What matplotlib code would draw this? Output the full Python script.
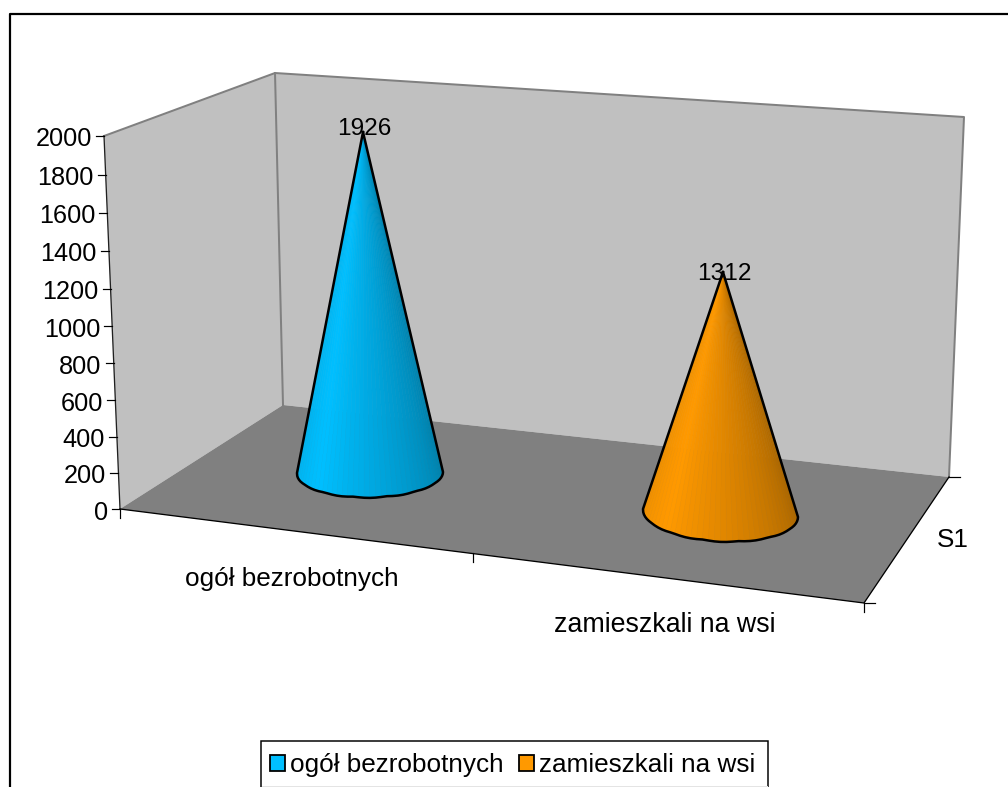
import numpy as np
import matplotlib
matplotlib.use('Agg')
import matplotlib.pyplot as plt
from matplotlib.patches import Patch, Polygon, Rectangle
from matplotlib.collections import PolyCollection

plt.rcParams['font.family'] = ['Liberation Sans', 'DejaVu Sans']

categories = ['ogół bezrobotnych', 'zamieszkali na wsi']
values = [1926, 1312]
colors = ['#00BFFF', '#FF9900']
y_ticks = [0, 200, 400, 600, 800, 1000, 1200, 1400, 1600, 1800, 2000]
depth_label = 'S1'

FONT = 18.8
TICK_FONT = 18.2
LABEL_FONT = 17.6
PX = 0.72  # one pixel in points

fig = plt.figure(figsize=(10.08, 7.87), dpi=100)
ax = fig.add_axes([0, 0, 1, 1])
ax.set_xlim(0, 1008)
ax.set_ylim(787, 0)
ax.axis('off')

# outer frame, only left and top edges are inside the picture
ax.plot([9, 1010], [12.5, 12.5], color='#D0D0D0', lw=1 * PX)
ax.plot([9.5, 9.5, 1010], [790, 14, 14], color='black', lw=2.2 * PX)

# walls and floor
ax.add_patch(Polygon([(104, 136), (275, 73), (283, 405), (120, 509)], fc='#C0C0C0', ec='none'))
ax.add_patch(Polygon([(275, 73), (964, 117), (949, 477), (283, 405)], fc='#C0C0C0', ec='none'))
ax.add_patch(Polygon([(120, 509), (283, 405), (949, 477), (864, 603)], fc='#808080', ec='none'))
ax.plot([104, 275, 964, 949], [136, 73, 117, 477], color='#808080', lw=2 * PX)
ax.plot([275, 283], [73, 405], color='#808080', lw=2 * PX)

# value axis runs along the slanted front edge of the left wall, with a bit of perspective
def axis_frac(v):
    t = v / 2000.0
    return t / (1 + 0.04 * (1 - t))

def axis_x(v):
    return 120 + (104 - 120) * axis_frac(v)

def axis_y(v):
    return 509 + (136 - 509) * axis_frac(v)

ax.plot([axis_x(0), axis_x(2000)], [axis_y(0), axis_y(2000)], color='#202020', lw=1.3 * PX)
for v in y_ticks:
    ax.plot([axis_x(v) - 8, axis_x(v)], [axis_y(v), axis_y(v)], color='black', lw=1.2 * PX)
    ax.text(axis_x(v) - 12, axis_y(v) + 1, str(v), ha='right', va='center_baseline',
            fontsize=TICK_FONT, color='black')

# floor edges and their ticks
ax.plot([120, 864, 949], [509, 603, 477], color='black', lw=1.3 * PX)
ax.plot([120, 120], [509, 518], color='black', lw=1.2 * PX)
ax.plot([473, 473], [553, 562], color='black', lw=1.2 * PX)
ax.plot([864, 864], [603, 612], color='black', lw=1.2 * PX)
ax.plot([864, 875], [603, 603], color='black', lw=1.2 * PX)
ax.plot([949, 960], [477, 477], color='black', lw=1.2 * PX)

ax.text(291.5, 579, categories[0], ha='center', va='center', fontsize=FONT)
ax.text(664.5, 625, categories[1], ha='center', va='center', fontsize=19.3)
ax.text(953, 540, depth_label, ha='center', va='center', fontsize=FONT)


def shade(color, t):
    # bright a quarter of the way round, darker towards the right side
    rgb = np.array(matplotlib.colors.to_rgb(color))
    if t < 0.25:
        k = 0.93 + 0.07 * t / 0.25
    else:
        k = 1.0 - 0.34 * (t - 0.25) / 0.75
    return tuple(rgb * k)


def draw_cone(value, color, apex_x, px_per_unit, left, right, bottom):
    # left / right are the base corners, bottom is the depth of the near rim
    cx = (left[0] + right[0]) / 2.0
    cy = (left[1] + right[1]) / 2.0
    rx = (right[0] - left[0]) / 2.0
    ry = bottom - cy
    slope = (right[1] - left[1]) / (right[0] - left[0])
    apex = (apex_x, cy - value * px_per_unit)

    a = np.linspace(np.pi, 0, 41)
    bx = cx + rx * np.cos(a)
    by = cy + ry * np.sin(a) + slope * (bx - cx)
    # rim is not smooth in the original, it has small scallops
    by = by + 0.9 * np.abs(np.sin(a * 7)) * np.sin(a)
    by[0] = by[0] - 1

    strips = []
    fills = []
    for i in range(len(a) - 1):
        strips.append([apex, (bx[i], by[i]), (bx[i + 1], by[i + 1])])
        fills.append(shade(color, i / (len(a) - 2.0)))
    ax.add_collection(PolyCollection(strips, facecolors=fills, edgecolors=fills,
                                     linewidths=0.4, zorder=3))

    outline_x = [apex[0]] + list(bx) + [apex[0]]
    outline_y = [apex[1]] + list(by) + [apex[1]]
    ax.plot(outline_x, outline_y, color='black', lw=2.5 * PX, zorder=4, solid_joinstyle='round')
    return apex


apex_1 = draw_cone(values[0], colors[0], 363, 0.177, (297, 474), (443, 472), 497)
apex_2 = draw_cone(values[1], colors[1], 723, 0.184, (643, 510), (798, 517), 541)

ax.text(apex_1[0] + 1, 129, str(values[0]), ha='center', va='center', fontsize=LABEL_FONT, zorder=5)
ax.text(apex_2[0] + 1, 274, str(values[1]), ha='center', va='center', fontsize=LABEL_FONT, zorder=5)

# legend box is cut off at the bottom of the picture
ax.add_patch(Rectangle((261, 741), 507, 60, fc='white', ec='black', lw=1.5 * PX, zorder=6))
ax.plot([262, 767], [786, 786], color='#E4E4E4', lw=1 * PX, zorder=7)
handles = [Patch(facecolor=c, edgecolor='black', linewidth=1.8 * PX) for c in colors]
leg = ax.legend(handles, categories, loc='upper left', bbox_to_anchor=(270, 753),
                bbox_transform=ax.transData, ncol=2, fontsize=FONT, frameon=False,
                borderpad=0, handlelength=0.56, handleheight=0.56, handletextpad=0.2,
                columnspacing=0.6, borderaxespad=0)
leg.set_zorder(8)

fig.savefig('out.png', dpi=100)
